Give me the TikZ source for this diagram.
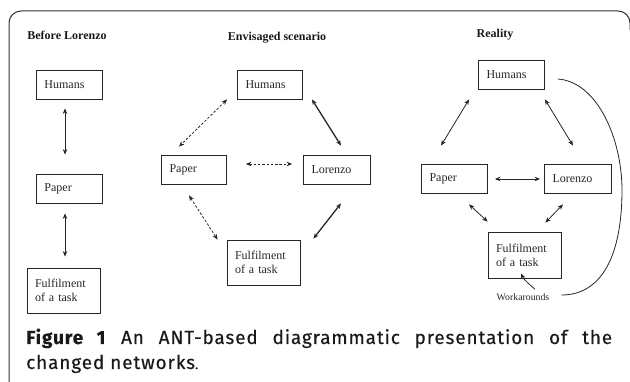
\documentclass[tikz,border=0pt]{standalone}
\usepackage{fontspec}
\setmainfont{Liberation Serif}
\newfontfamily\capfont[LetterSpace=4.5,FakeBold=0.3]{Fira Sans}
\usetikzlibrary{arrows.meta,calc}
\tikzset{
  box/.style={draw=black!85,line width=0.8pt,align=left,inner xsep=8pt,inner ysep=0pt,minimum height=29pt,font=\fontsize{12}{14}\selectfont,text=black!85},
  ttl/.style={font=\fontsize{12}{14}\selectfont\bfseries,text=black!90},
  arr/.style={{Stealth[length=5.5pt,width=4.5pt]}-{Stealth[length=5.5pt,width=4.5pt]},line width=0.8pt,draw=black!85},
  thk/.style={arr,line width=1.3pt},
  dsh/.style={arr,dash pattern=on 2.5pt off 1.8pt},
  frame/.style={draw=black!80,line width=1pt},
  captxt/.style={anchor=base west,inner sep=0pt,font=\capfont\fontsize{19}{22}\selectfont,text=black!90},
}
\begin{document}
\begin{tikzpicture}[x=1pt,y=-1pt]
\useasboundingbox (0,0) rectangle (630,382);
% frame
\draw[frame] (9,382) -- (9,23) arc[start angle=180,end angle=270,radius=12] -- (618,11) arc[start angle=270,end angle=360,radius=12] -- (630,30);
% titles
\node[ttl] (t1) at (67,35) {Before Lorenzo};
\node[ttl] (t2) at (277,38) {Envisaged scenario};
\node[ttl] (t3) at (495,35) {Reality};
% Before Lorenzo
\node[box,text width=50pt] (h1) at (69.5,84.5) {Humans};
\node[box,text width=50pt] (p1) at (69.5,188.5) {Paper};
\node[box,text width=57pt,minimum height=45pt] (f1) at (63.5,290.5) {Fulfilment\\of a task};
\draw[arr] ($(h1.south)+(-4.5,9)$) -- ($(p1.north)+(-4.5,-19)$);
\draw[arr] ($(p1.south)+(-4.5,10)$) -- ($(f1.north)+(1.5,-11)$);
% Envisaged
\node[box,text width=49pt] (h2) at (270,84.5) {Humans};
\node[box,text width=49pt] (p2) at (194,169.5) {Paper};
\node[box,text width=51pt] (l2) at (337,169.5) {Lorenzo};
\node[box,text width=57pt,minimum height=45pt] (f2) at (263.5,262.5) {Fulfilment\\of a task};
\draw[dsh] ($(h2.south west)+(-10,0)$) -- ($(p2.north)+(-15,-8)$);
\draw[thk] ($(h2.south east)+(9,0)$) -- ($(l2.north)+(4,-9)$);
\draw[dsh] ($(p2.east)+(19,-5.5)$) -- ($(l2.west)+(-11,-5.5)$);
\draw[dsh] ($(p2.south)+(-5,11)$) -- ($(f2.north west)+(-9,0)$);
\draw[thk] ($(l2.south)+(4,19)$) -- ($(f2.north east)+(13,-1)$);
% Reality
\node[box,text width=50pt] (h3) at (511.5,74.5) {Humans};
\node[box,text width=50pt] (p3) at (454.5,178.5) {Paper};
\node[box,text width=51pt] (l3) at (578,178.5) {Lorenzo};
\node[box,text width=57pt,minimum height=46pt] (f3) at (524.5,255) {Fulfilment\\of a task};
\node[inner sep=0pt,font=\fontsize{9.8}{11}\selectfont,text=black!85] (wk) at (523,297) {Workarounds};
\draw[arr] ($(h3.south west)+(-9,10)$) -- ($(p3.north)+(-13.5,-18)$);
\draw[arr] ($(h3.south east)+(0,10)$) -- ($(l3.north)+(-5,-18)$);
\draw[arr] ($(p3.east)+(7,0.5)$) -- ($(l3.west)+(-4,0.5)$);
\draw[arr] ($(p3.south)+(14.5,11)$) -- ($(f3.north west)+(0,-10)$);
\draw[arr] ($(l3.south)+(-15,11)$) -- ($(f3.north east)+(-16,-9)$);
\coordinate (cs) at ($(h3.east)+(13,4.5)$);
\coordinate (ce) at ($(wk.east)+(12,-2)$);
\draw[line width=0.8pt,draw=black!85] (cs) .. controls (598,82) and (622,140) .. (622,190) .. controls (622,255) and (602,295) .. (ce);
\draw[line width=0.8pt,draw=black!85,-{Stealth[length=5.5pt,width=4.5pt]}] ($(wk.north)+(12,-4)$) .. controls (528,283) and (524,280) .. ($(f3.south)+(-3.5,-5)$);
% caption
\node[captxt] (c1) at (26,344) {\makebox[586pt][s]{\textbf{Figure 1} An ANT-based diagrammatic presentation of the}};
\node[captxt] (c2) at (26,369) {changed networks{\fontsize{13}{14}\selectfont.}};
\end{tikzpicture}
\end{document}
